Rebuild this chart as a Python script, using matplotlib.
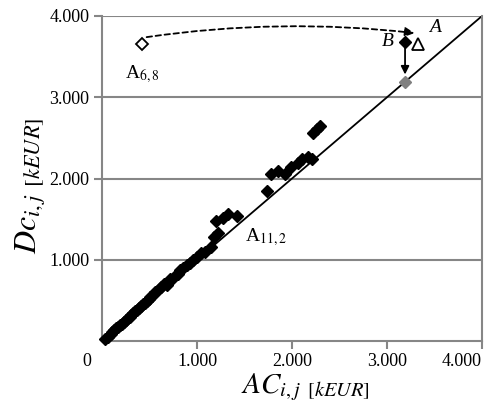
import numpy as np
import matplotlib
matplotlib.use("Agg")
import matplotlib.pyplot as plt
from matplotlib.ticker import FuncFormatter

plt.rcParams['font.family'] = ['Liberation Serif', 'DejaVu Serif']
plt.rcParams['mathtext.fontset'] = 'stix'

# scattered cells (AC, Dc) in kEUR
ac_vals = [30, 60, 90, 110, 130, 150, 170, 190, 210, 230, 250, 270, 290, 310, 330,
           350, 370, 390, 410, 430, 450, 470, 490, 510, 530, 560, 590, 620, 650,
           680, 700, 720, 760, 800, 820, 850, 890, 930, 960, 1000, 1040, 1080,
           1150, 1180, 1220, 1200, 1270, 1330, 1420, 1740, 1780, 1850, 1930,
           1990, 2060, 2110, 2170, 2210, 2220, 2260, 2300]
dc_vals = [30, 55, 90, 115, 130, 155, 175, 195, 215, 240, 255, 280, 300, 320, 345,
           365, 385, 405, 430, 450, 470, 495, 515, 540, 560, 600, 625, 660, 700,
           690, 720, 760, 790, 830, 880, 900, 940, 960, 1000, 1040, 1080, 1100,
           1160, 1280, 1330, 1480, 1510, 1560, 1540, 1850, 2060, 2090, 2060,
           2140, 2190, 2240, 2260, 2240, 2560, 2610, 2650]

# highlighted cells
a68 = (420, 3650)
b_pt = (3190, 3680)
a_pt = (3330, 3650)
b_corr = (3190, 3190)
diag = [0, 4000]

fig = plt.figure(figsize=(4.89, 4.05), dpi=100)
ax = fig.add_axes([102/489, 64/405, 380/489, 325/405])

ax.plot(diag, diag, color='black', lw=1.3, zorder=2)
ax.plot(ac_vals, dc_vals, 'D', color='black', ms=6.5, zorder=3, clip_on=False)
ax.plot(*a68, 'D', mfc='white', mec='black', mew=1.3, ms=6.5, zorder=4)
ax.plot(*b_pt, 'D', color='black', ms=6.5, zorder=4)
ax.plot(*a_pt, '^', mfc='white', mec='black', mew=1.3, ms=8, zorder=4)
ax.plot(*b_corr, 'D', color='#808080', ms=6.5, zorder=4)

# arrows
ax.annotate('', xy=(3290, 3790), xytext=(470, 3740),
            arrowprops=dict(arrowstyle='-|>', color='black', lw=1.3, ls=(0, (3, 2)),
                            connectionstyle='arc3,rad=-0.065', mutation_scale=14,
                            shrinkA=0, shrinkB=0))
ax.annotate('', xy=(b_corr[0], b_corr[1] + 90), xytext=(b_pt[0], b_pt[1] - 70),
            arrowprops=dict(arrowstyle='-|>', color='black', lw=1.3,
                            mutation_scale=12, shrinkA=0, shrinkB=0))

ax.text(240, 3280, r'A$_{6,8}$', fontsize=14, va='center', ha='left')
ax.text(1510, 1280, r'A$_{11,2}$', fontsize=14, va='center', ha='left')
ax.text(2950, 3690, 'B', fontsize=14, style='italic', va='center', ha='left')
ax.text(3440, 3860, 'A', fontsize=14, style='italic', va='center', ha='left')

ax.set_xlim(0, 4000)
ax.set_ylim(0, 4000)
ax.set_xticks([1000, 2000, 3000, 4000])
ax.set_yticks([1000, 2000, 3000, 4000])
fmt = FuncFormatter(lambda v, p: f'{int(v):,}'.replace(',', '.'))
ax.xaxis.set_major_formatter(fmt)
ax.yaxis.set_major_formatter(fmt)
ax.tick_params(axis='both', color='#868686', width=1.5, length=6, labelsize=13, pad=3)
ax.tick_params(axis='x', pad=3)
ax.grid(axis='y', color='#868686', lw=1.5)
ax.set_axisbelow(True)
for s in ax.spines.values():
    s.set_color('#868686')
    s.set_linewidth(1.5)
ax.spines['top'].set_visible(False)

fig.canvas.draw()
ax.get_xticklabels()[-1].set_ha('right')
ax.get_xticklabels()[-1].set_x(4000)

ax.annotate('0', xy=(0, 0), xycoords=('data', 'axes fraction'), xytext=(-15, -21),
            textcoords='offset pixels', fontsize=13, ha='center', va='center')

fig.text(305/489, 1 - 387/405, r'$AC_{i,j\;\;[kEUR]}$', fontsize=21, ha='center', va='center')
fig.text(31/489, 1 - 186/405, r'$Dc_{i,j\;\;[kEUR]}$', fontsize=23, ha='center', va='center',
         rotation=90)

fig.savefig('out.png', dpi=100)
